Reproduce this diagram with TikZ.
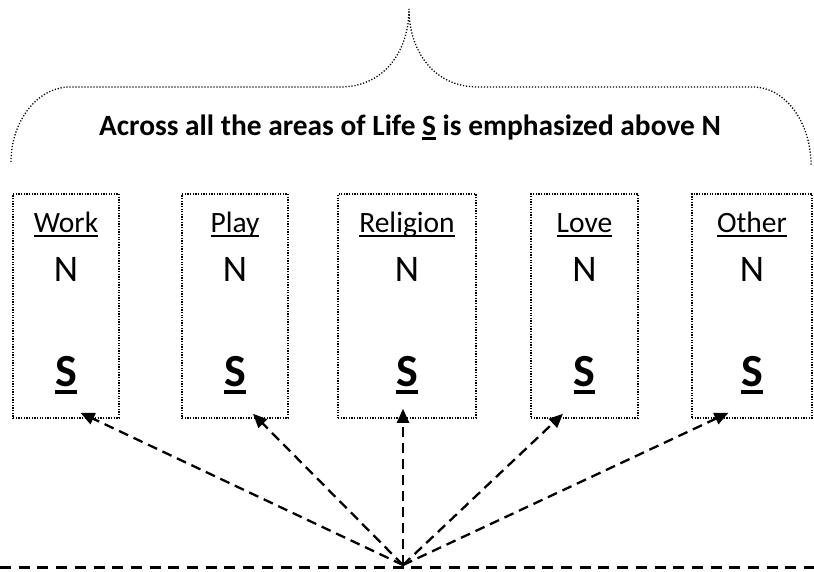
\documentclass[tikz,border=0pt]{standalone}
\usepackage{fontspec}
\setmainfont{Carlito}
\usetikzlibrary{arrows.meta,calc}

% underlined word: #1 = drop of the rule's lower edge, #2 = rule thickness, #3 = text
\newsavebox\ulbox
\newcommand\ulword[3]{\sbox\ulbox{#3}\rlap{\usebox\ulbox}\rule[-#1]{\wd\ulbox}{#2}}

\tikzset{
  areabox/.style={rectangle, draw, line width=1.5pt, dash pattern=on 1.3pt off 1.35pt,
                  minimum height=224pt, inner sep=0pt},
  label/.style={anchor=base, inner sep=0pt, font=\fontsize{29.5}{32}\selectfont},
  nnode/.style={anchor=base, inner sep=0pt, font=\fontsize{37.5}{40}\selectfont},
  snode/.style={anchor=base, inner sep=0pt, font=\fontsize{46}{50}\selectfont\bfseries},
  brace/.style={line width=1.3pt, dash pattern=on 1.2pt off 1.8pt},
  ray/.style={line width=2.3pt, dash pattern=on 10pt off 6pt,
              -{Triangle[length=14pt,width=12pt]}},
  ground/.style={line width=3pt, dash pattern=on 11pt off 7.7pt}
}

\begin{document}
\begin{tikzpicture}[x=1pt,y=-1pt]
\useasboundingbox (0,0) rectangle (814,571);

% the brace over the five areas
\draw[brace] (11,162) .. controls (11,121) and (37.5,87) .. (70,87)
  -- (340,87) .. controls (385,87) and (409,50) .. (409,9)
  .. controls (409,50) and (433,87) .. (478,87)
  -- (753,87) .. controls (785,87) and (811,122) .. (811,165);

\node[anchor=base, inner sep=0pt, font=\fontsize{29.4}{32}\selectfont\bfseries] (title) at (410,135)
  {Across all the areas of Life \ulword{4.7pt}{2.4pt}{S} is emphasized above N};

% the five areas
\node[areabox, minimum width=106pt] (work) at (66,306) {};
\node[areabox, minimum width=106pt] (play) at (235,306) {};
\node[areabox, minimum width=138pt] (religion) at (407,306) {};
\node[areabox, minimum width=107pt] (love) at (584.5,306) {};
\node[areabox, minimum width=120pt] (other) at (752,306) {};

\foreach \b/\t in {work/Work, play/Play, religion/Religion, love/Love, other/Other}{
  \node[label] (\b-lab) at ($(\b.north)+(0,39)$) {\ulword{4.85pt}{1.7pt}{\t}};
  \node[nnode] (\b-n) at ($(\b.north)+(0,88)$) {N};
  \node[snode] (\b-s) at ($(\b.north)+(0,193)$) {\ulword{8.15pt}{4.3pt}{S}};
}

% ground line and the rays rising from it
\coordinate (groundL) at (0,567);
\coordinate (groundR) at (814,567);
\coordinate (hub) at (403,565);
\draw[ground] (groundL) -- (groundR);

\draw[ray] (hub) -- ([shift={(14.5,-6)}]work.south);
\draw[ray] (hub) -- ([shift={(18,-5)}]play.south);
\draw[ray] (hub) -- ([shift={(-4,-10)}]religion.south);
\draw[ray] (hub) -- ([shift={(-21.5,-5)}]love.south);
\draw[ray] (hub) -- ([shift={(-23.5,-6)}]other.south);
\end{tikzpicture}
\end{document}
